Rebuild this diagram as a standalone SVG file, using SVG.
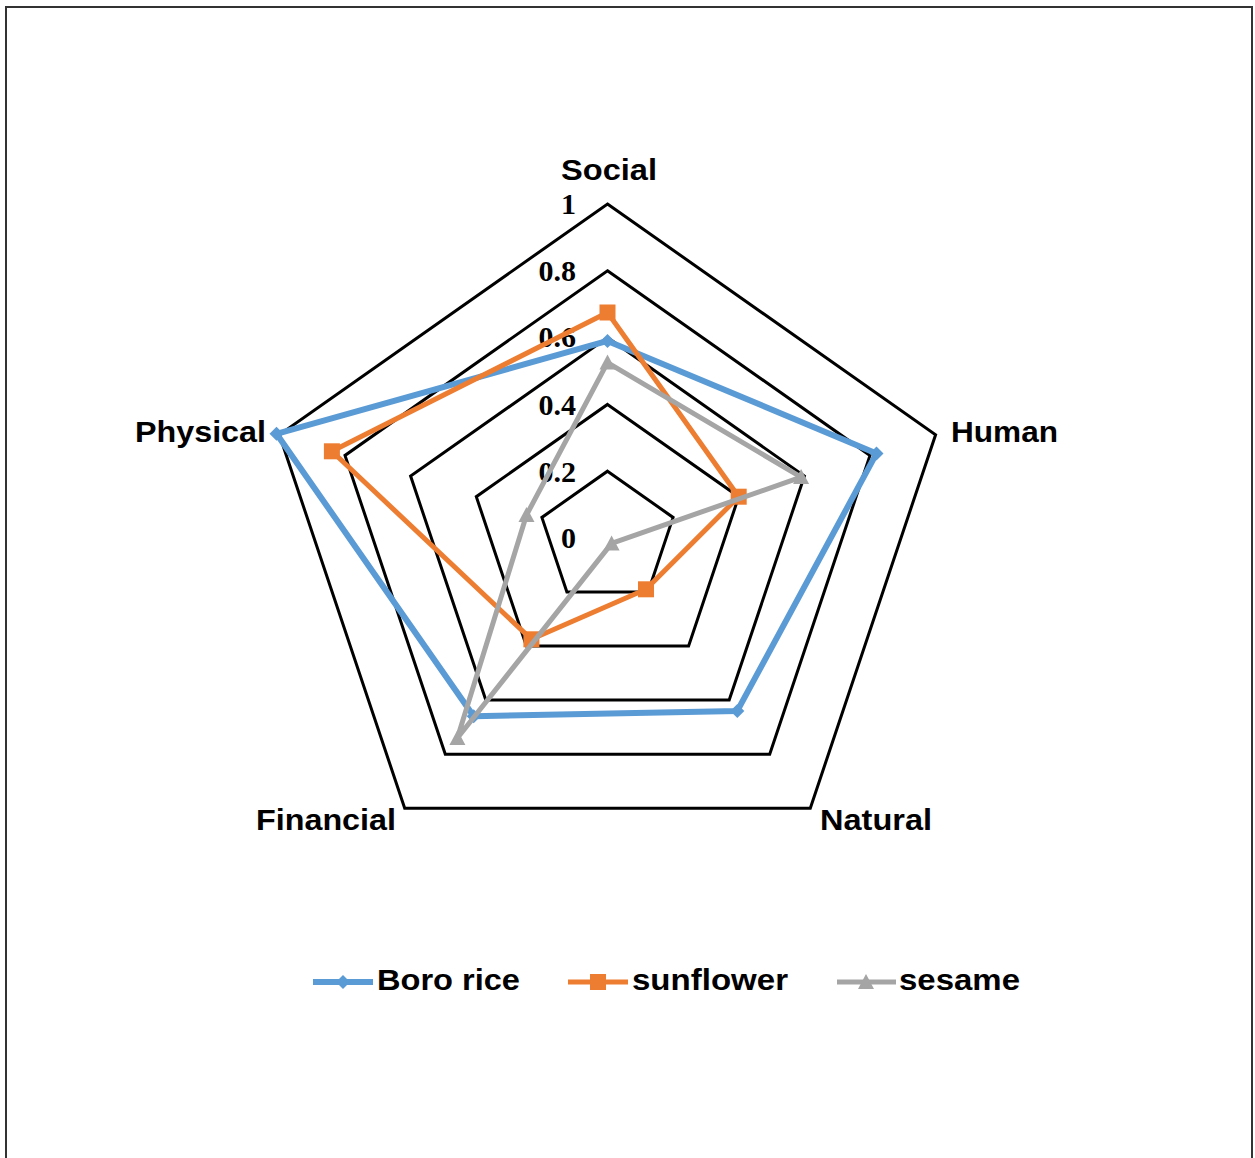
<svg xmlns="http://www.w3.org/2000/svg" width="1255" height="1158" viewBox="0 0 1255 1158">
<style>
.grid{fill:none;stroke:#000;stroke-width:3;stroke-linejoin:miter}
.ax{font-family:"Liberation Sans",Arial,sans-serif;font-weight:bold;font-size:30px;fill:#000}
.tk{font-family:"Liberation Serif","Times New Roman",serif;font-weight:bold;font-size:30px;fill:#000;text-anchor:end}
.s1{fill:none;stroke:#5B9BD5;stroke-width:6;stroke-linejoin:round}
.s2{fill:none;stroke:#ED7D31;stroke-width:5;stroke-linejoin:round}
.s3{fill:none;stroke:#A5A5A5;stroke-width:5;stroke-linejoin:round}
.m1{fill:#5B9BD5}
.m2{fill:#ED7D31}
.m3{fill:#A5A5A5}
</style>
<defs>
<path id="dia" d="M0,-7 L7,0 L0,7 L-7,0 Z"/>
<rect id="sq" x="-8" y="-8" width="16" height="16"/>
<path id="tri" d="M0,-8 L8,7 L-8,7 Z"/>
</defs>
<rect x="0" y="0" width="1255" height="1158" fill="#fff"/>
<rect x="6" y="7" width="1246" height="1170" fill="none" stroke="#333" stroke-width="2"/>
<g id="grid">
<polygon class="grid" points="607.5,204 935.6,434.8 810.3,808.2 404.7,808.2 279.4,434.8"/>
<polygon class="grid" points="607.5,270.8 870,455.4 769.7,754.2 445.3,754.2 345,455.4"/>
<polygon class="grid" points="607.5,337.6 804.4,476.1 729.2,700.1 485.8,700.1 410.6,476.1"/>
<polygon class="grid" points="607.5,404.4 738.7,496.7 688.6,646.1 526.4,646.1 476.3,496.7"/>
<polygon class="grid" points="607.5,471.2 673.1,517.4 648.1,592 566.9,592 541.9,517.4"/>
</g>
<g id="ticks">
<text class="tk" x="576" y="214">1</text>
<text class="tk" x="576" y="281">0.8</text>
<text class="tk" x="576" y="347">0.6</text>
<text class="tk" x="576" y="415">0.4</text>
<text class="tk" x="576" y="482">0.2</text>
<text class="tk" x="576" y="548">0</text>
</g>
<g id="axis-labels">
<text id="social" class="ax" x="561" y="180" textLength="96" lengthAdjust="spacingAndGlyphs">Social</text>
<text id="human" class="ax" x="951" y="442" textLength="107" lengthAdjust="spacingAndGlyphs">Human</text>
<text id="natural" class="ax" x="820" y="830" textLength="112" lengthAdjust="spacingAndGlyphs">Natural</text>
<text id="financial" class="ax" x="256" y="830" textLength="140" lengthAdjust="spacingAndGlyphs">Financial</text>
<text id="physical" class="ax" x="135" y="442" textLength="131" lengthAdjust="spacingAndGlyphs">Physical</text>
</g>
<g id="series-boro-rice">
<polygon class="s1" points="607.5,340.9 876.5,453.4 737.3,710.9 473.7,716.3 276.5,433.8"/>
<use href="#dia" class="m1" x="607.5" y="340.9"/>
<use href="#dia" class="m1" x="876.5" y="453.4"/>
<use href="#dia" class="m1" x="737.3" y="710.9"/>
<use href="#dia" class="m1" x="473.7" y="716.3"/>
<use href="#dia" class="m1" x="276.5" y="433.8"/>
</g>
<g id="series-sunflower">
<polygon class="s2" points="607.5,312.5 738.7,496.7 646,589.3 531.4,639.3 331.9,451.3"/>
<use href="#sq" class="m2" x="607.5" y="312.5"/>
<use href="#sq" class="m2" x="738.7" y="496.7"/>
<use href="#sq" class="m2" x="646" y="589.3"/>
<use href="#sq" class="m2" x="531.4" y="639.3"/>
<use href="#sq" class="m2" x="331.9" y="451.3"/>
</g>
<g id="series-sesame">
<polygon class="s3" points="607.5,362.6 801.1,477.1 611.6,543.4 457.4,738 526.5,515"/>
<use href="#tri" class="m3" x="607.5" y="362.6"/>
<use href="#tri" class="m3" x="801.1" y="477.1"/>
<use href="#tri" class="m3" x="611.6" y="543.4"/>
<use href="#tri" class="m3" x="457.4" y="738"/>
<use href="#tri" class="m3" x="526.5" y="515"/>
</g>
<g id="legend">
<line class="s1" x1="313" y1="982" x2="373" y2="982"/>
<use href="#dia" class="m1" x="343" y="982"/>
<text class="ax" x="377" y="990" textLength="143" lengthAdjust="spacingAndGlyphs">Boro rice</text>
<line class="s2" x1="568" y1="982" x2="628" y2="982"/>
<use href="#sq" class="m2" x="598" y="982"/>
<text class="ax" x="632" y="990" textLength="156" lengthAdjust="spacingAndGlyphs">sunflower</text>
<line class="s3" x1="837" y1="982" x2="896" y2="982"/>
<use href="#tri" class="m3" x="866" y="982"/>
<text class="ax" x="899" y="990" textLength="121" lengthAdjust="spacingAndGlyphs">sesame</text>
</g>
</svg>
